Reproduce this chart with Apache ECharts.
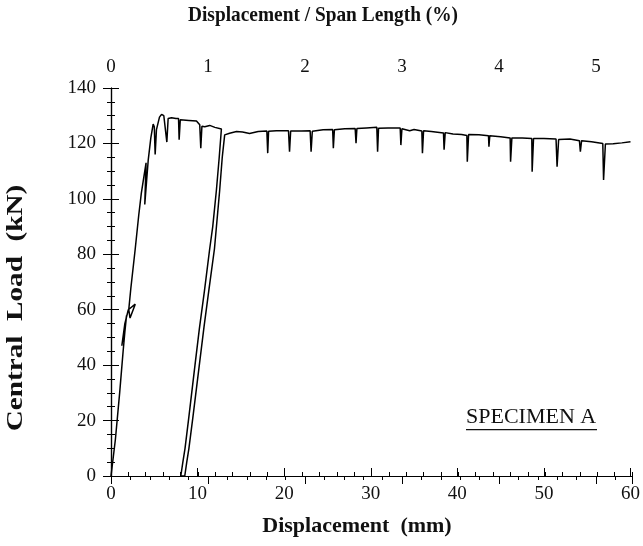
<!DOCTYPE html>
<html>
<head>
<meta charset="utf-8">
<title>Specimen A - central load vs displacement</title>
<script src="https://cdn.jsdelivr.net/npm/echarts@6/dist/echarts.min.js"></script>
<style>
  html, body { margin: 0; padding: 0; background: #fff; }
  #chart { width: 643px; height: 546px; }
</style>
</head>
<body>
<div id="chart"></div>
<script>
// --- data: [displacement mm, load kN] ---

// first loading, with the small blips on the way up and the load drops near the peak
const firstLoading = [
    [0, 0], [0.5, 13], [1.0, 30], [1.4, 45], [1.6, 52], [1.8, 58], [1.5, 52], [1.25, 47],
    [1.6, 55], [2.0, 60], [2.8, 62], [2.2, 57], [2.05, 60], [2.3, 68], [2.8, 82], [3.2, 94],
    [3.5, 102], [3.8, 108], [4.05, 113], [3.9, 98], [4.1, 106], [4.3, 114], [4.6, 122],
    [4.87, 127], [5.0, 126], [5.1, 116], [5.25, 125], [5.6, 129.5], [5.84, 130.5], [6.1, 130],
    [6.3, 129.5], [6.45, 120.5], [6.6, 129], [6.99, 129.3], [7.5, 129], [7.8, 129], [7.87, 121.3],
    [8.0, 128.5], [9.0, 128.3], [9.87, 128.1], [10.25, 126.7], [10.37, 118.3], [10.5, 126.2],
    [10.83, 126], [11.4, 126.5], [12.0, 125.8], [12.75, 125.2]
];

// unloading down to zero load
const unloading = [
    [12.75, 125.2], [12.5, 115], [12.17, 103], [11.75, 90], [11.4, 82], [10.8, 67],
    [10.2, 53], [9.7, 40], [8.98, 21], [8.55, 10], [8.3, 5], [8.06, 0]
];

// reloading back up to the plateau
const reloading = [
    [8.06, 0], [8.52, 0], [8.75, 5], [9.0, 10], [9.45, 21], [10.2, 40], [10.75, 54],
    [11.3, 67], [11.95, 82], [12.55, 103], [12.85, 115], [13.13, 123.1]
];

// long plateau with the regular load drops
const plateau = [
    [13.13, 123.1], [13.7, 123.7], [14.5, 124.3], [15.2, 124.1], [16.0, 123.6], [17.0, 124.3],
    [18.0, 124.5], [18.1, 116.5], [18.2, 124.4], [19.1, 124.6], [20.5, 124.6], [20.62, 117.0],
    [20.75, 124.5], [22.0, 124.5], [23.0, 124.6], [23.11, 117.0], [23.25, 124.4], [24.5, 124.9],
    [25.6, 125.0], [25.68, 118.3], [25.8, 124.9], [27.0, 125.3], [28.2, 125.4], [28.3, 120.1],
    [28.4, 125.4], [29.5, 125.6], [30.7, 125.8], [30.79, 117.0], [30.9, 125.5], [32.0, 125.6],
    [33.4, 125.6], [33.48, 119.4], [33.6, 125.3], [34.5, 124.6], [35.0, 125.0], [35.9, 124.5],
    [35.97, 116.5], [36.1, 124.6], [37.0, 124.3], [38.4, 123.8], [38.47, 117.7], [38.6, 123.9],
    [39.5, 123.4], [40.5, 123.2], [41.1, 122.9], [41.15, 113.4], [41.3, 123.2], [42.5, 123.1],
    [43.6, 122.8], [43.65, 118.8], [43.75, 122.8], [45.0, 122.4], [46.1, 122.0], [46.15, 113.4],
    [46.3, 122.0], [47.5, 122.0], [48.6, 121.8], [48.64, 109.8], [48.8, 121.8], [50.0, 121.8],
    [51.4, 121.6], [51.52, 111.6], [51.7, 121.4], [53.0, 121.6], [54.1, 121.0], [54.21, 117.0],
    [54.35, 121.0], [55.5, 120.6], [56.8, 120.0], [56.89, 106.8], [57.1, 119.8], [58.0, 119.9],
    [59.0, 120.2], [60.0, 120.6]
];

// axis ranges and tick steps
const dispMax = 60;          // mm
const spanPctMax = 5.37;     // 60 mm as % of span length
const loadMax = 140;         // kN
const dispStep = 10, dispMinorStep = 2;
const pctStep = 1, pctMinorStep = 0.2;
const loadStep = 20, loadMinorStep = 5;

const serif = '"Liberation Serif", "Times New Roman", serif';

const chart = echarts.init(document.getElementById('chart'), null, { renderer: 'canvas' });

const gridRect = { left: 111, right: 11, top: 88, bottom: 70 };
const tickLabel = { color: '#111', fontFamily: serif, fontSize: 19 };
const blackLine = { color: '#000', width: 1.2 };

// one helper per axis so every tick set points into the plot
function makeAxis(gridIndex, position, max, interval, tickLen, withLine, label) {
    return {
        gridIndex: gridIndex, type: 'value', position: position,
        min: 0, max: max, interval: interval,
        axisLine: { show: withLine, lineStyle: blackLine },
        axisTick: { show: true, inside: true, length: tickLen, lineStyle: { color: '#000', width: 1 } },
        axisLabel: label ? label : { show: false },
        splitLine: { show: false }
    };
}

const option = {
    animation: false,
    backgroundColor: '#fff',
    // four grids on the same rect: major / minor ticks on each side
    grid: [0, 1, 2, 3].map(() => Object.assign({}, gridRect)),
    xAxis: [
        makeAxis(0, 'bottom', dispMax, dispStep, 8, true, Object.assign({ margin: 9 }, tickLabel)),
        makeAxis(1, 'top', spanPctMax, pctStep, 8, true, Object.assign({
            margin: 11,
            formatter: v => Math.abs(v - Math.round(v)) < 1e-6 ? String(Math.round(v)) : ''
        }, tickLabel)),
        makeAxis(2, 'bottom', dispMax, dispMinorStep, 4, false),
        makeAxis(3, 'top', spanPctMax, pctMinorStep, 4, false)
    ],
    yAxis: [
        makeAxis(0, 'left', loadMax, loadStep, 8, true, Object.assign({ margin: 15 }, tickLabel)),
        makeAxis(1, 'right', loadMax, loadStep, 8, true),
        makeAxis(2, 'left', loadMax, loadMinorStep, 4, false),
        makeAxis(3, 'right', loadMax, loadMinorStep, 4, false)
    ],
    graphic: [
        {
            type: 'text', x: 323, y: 15, scaleX: 0.88,
            style: {
                text: 'Displacement / Span Length (%)', fill: '#111',
                font: 'bold 22px ' + serif, align: 'center', verticalAlign: 'middle'
            }
        },
        {
            type: 'text', x: 357, y: 526,
            style: {
                text: 'Displacement  (mm)', fill: '#111',
                font: 'bold 22px ' + serif, align: 'center', verticalAlign: 'middle'
            }
        },
        {
            type: 'text', x: 16, y: 308, rotation: Math.PI / 2, scaleX: 1.27,
            style: {
                text: 'Central  Load  (kN)', fill: '#111',
                font: 'bold 23px ' + serif,
                align: 'center', verticalAlign: 'middle'
            }
        },
        {
            type: 'group', x: 466, y: 406,
            children: [
                {
                    type: 'text',
                    style: { text: 'SPECIMEN A', fill: '#111', font: '22px ' + serif, x: 0, y: 0 }
                },
                {
                    type: 'rect',
                    shape: { x: 0, y: 23, width: 131, height: 1.2 },
                    style: { fill: '#111' }
                }
            ]
        }
    ],
    series: [
        {
            name: 'Specimen A',
            type: 'line',
            xAxisIndex: 0,
            yAxisIndex: 0,
            showSymbol: false,
            data: [].concat(firstLoading, unloading, reloading, plateau),
            lineStyle: { color: '#000', width: 1.5 },
            z: 3
        }
    ]
};

chart.setOption(option);
</script>
</body>
</html>
